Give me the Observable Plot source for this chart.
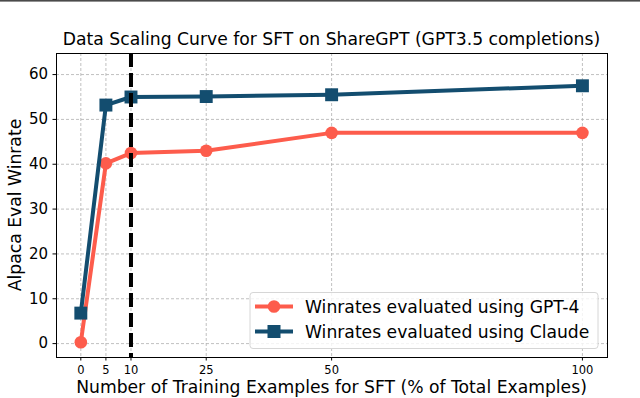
<!DOCTYPE html>
<html>
<head>
<meta charset="utf-8">
<script src="https://cdn.jsdelivr.net/npm/d3@7"></script>
<script src="https://cdn.jsdelivr.net/npm/@observablehq/plot@0.6"></script>
<style>
  html, body { margin: 0; padding: 0; background: #fff; }
  svg { font-family: "DejaVu Sans", sans-serif; }
</style>
</head>
<body>
<div id="chart"></div>
<script>
const xTicks = [0, 5, 10, 25, 50, 100];
const yTicks = [0, 10, 20, 30, 40, 50, 60];
const examples = [0, 5, 10, 25, 50, 100];
const gpt4Winrate = [0.3, 40.2, 42.5, 43.0, 47.0, 47.0];
const claudeWinrate = [6.8, 53.2, 55.0, 55.1, 55.5, 57.5];
const cutoff = [10];
const seriesNames = ["Winrates evaluated using GPT-4", "Winrates evaluated using Claude"];
const titleText = "Data Scaling Curve for SFT on ShareGPT (GPT3.5 completions)";
const xLabel = "Number of Training Examples for SFT (% of Total Examples)";
const yLabel = "Alpaca Eval Winrate";

const RED = "#fd5c4c";
const BLUE = "#134d6f";

const gpt4 = examples.map((x, i) => ({x, y: gpt4Winrate[i]}));
const claude = examples.map((x, i) => ({x, y: claudeWinrate[i]}));

const W = 640, H = 398;
const mL = 56, mR = 33, mT = 53, mB = 41;
const FS = 17.2;

const chart = Plot.plot({
  width: W,
  height: H,
  marginLeft: mL,
  marginRight: mR,
  marginTop: mT,
  marginBottom: mB,
  style: {fontFamily: "DejaVu Sans, sans-serif", color: "#000", background: "#fff"},
  x: {domain: [-4.85, 105], label: null},
  y: {domain: [-3.1, 64.7], label: null},
  marks: [
    Plot.gridX(xTicks, {stroke: "#b0b0b0", strokeOpacity: 1, strokeWidth: 0.8, strokeDasharray: "3,2"}),
    Plot.gridY(yTicks, {stroke: "#b0b0b0", strokeOpacity: 1, strokeWidth: 0.8, strokeDasharray: "3,2"}),
    Plot.line(gpt4, {x: "x", y: "y", stroke: RED, strokeWidth: 4}),
    Plot.dot(gpt4, {x: "x", y: "y", fill: RED, r: 6.3, symbol: "circle"}),
    Plot.line(claude, {x: "x", y: "y", stroke: BLUE, strokeWidth: 4}),
    Plot.dot(claude, {x: "x", y: "y", fill: BLUE, r: 7.3, symbol: "square"}),
    Plot.ruleX(cutoff, {stroke: "#000", strokeWidth: 4, strokeDasharray: "14,6"}),
    Plot.frame({stroke: "#000", strokeWidth: 1}),
    Plot.axisX(xTicks, {tickSize: 3.5, tickPadding: 5, fontSize: 11.5, label: null, tickFormat: d => String(d)}),
    Plot.axisY(yTicks, {tickSize: 3.5, tickPadding: 5, fontSize: 15, label: null, tickFormat: d => String(d)})
  ]
});

document.getElementById("chart").appendChild(chart);

const svg = d3.select(chart);
svg.append("rect").attr("x", 0).attr("y", 0).attr("width", W).attr("height", 1.6).attr("fill", "#4a4a4a");

svg.append("text").attr("x", (mL + W - mR) / 2).attr("y", 45)
  .attr("text-anchor", "middle").attr("font-size", FS).attr("fill", "#000").text(titleText);
svg.append("text").attr("x", (mL + W - mR) / 2).attr("y", 393)
  .attr("text-anchor", "middle").attr("font-size", FS).attr("fill", "#000").text(xLabel);
svg.append("text").attr("transform", `translate(21,${(mT + H - mB) / 2}) rotate(-90)`)
  .attr("text-anchor", "middle").attr("font-size", FS).attr("fill", "#000").text(yLabel);

const lg = svg.append("g");
lg.append("rect").attr("x", 250).attr("y", 292.5).attr("width", 348).attr("height", 56)
  .attr("rx", 3).attr("fill", "#fff").attr("fill-opacity", 0.8).attr("stroke", "#d6d6d6").attr("stroke-width", 1);
const rows = [{name: seriesNames[0], color: RED, sym: "circle", y: 306.5},
              {name: seriesNames[1], color: BLUE, sym: "square", y: 331.5}];
rows.forEach(r => {
  lg.append("line").attr("x1", 255).attr("x2", 293).attr("y1", r.y).attr("y2", r.y)
    .attr("stroke", r.color).attr("stroke-width", 4);
  if (r.sym === "circle") {
    lg.append("circle").attr("cx", 274).attr("cy", r.y).attr("r", 6.3).attr("fill", r.color);
  } else {
    lg.append("rect").attr("x", 267.5).attr("y", r.y - 6.5).attr("width", 13).attr("height", 13).attr("fill", r.color);
  }
  lg.append("text").attr("x", 305).attr("y", r.y + 6).attr("text-anchor", "start")
    .attr("font-size", FS).attr("fill", "#000").text(r.name);
});
</script>
</body>
</html>
